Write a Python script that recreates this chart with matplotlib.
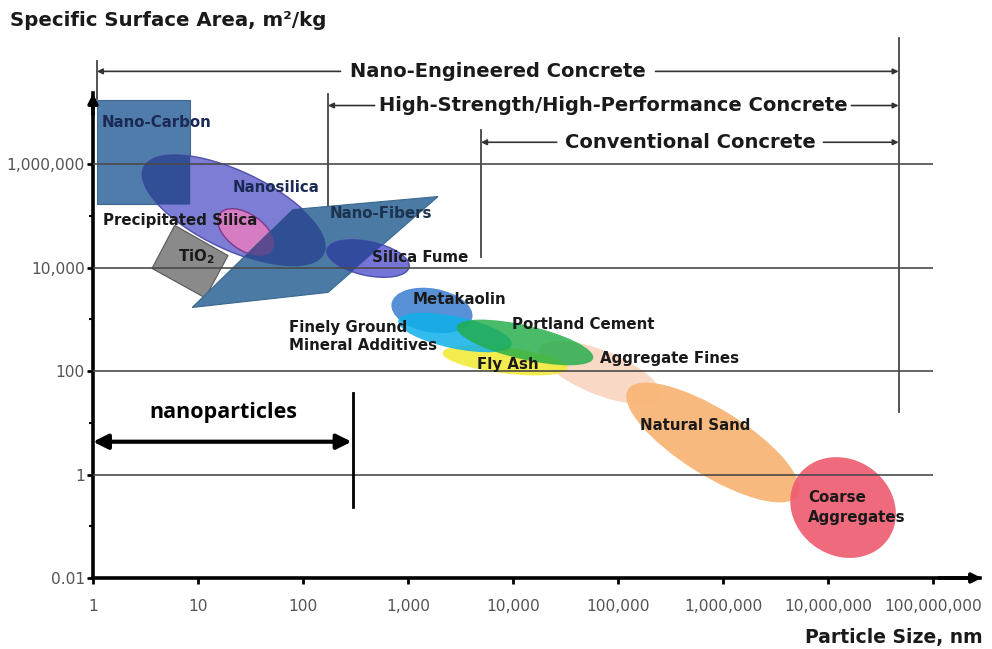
import matplotlib
matplotlib.use("Agg")
import numpy as np
import matplotlib.pyplot as plt
from matplotlib.patches import Ellipse, Polygon
from matplotlib import transforms
from matplotlib.ticker import NullFormatter, NullLocator

# ---- axis ticks ----
x_ticks = [1, 10, 100, 1e3, 1e4, 1e5, 1e6, 1e7, 1e8]
x_labels = ["1", "10", "100", "1,000", "10,000", "100,000",
            "1,000,000", "10,000,000", "100,000,000"]
y_ticks = [0.01, 1, 100, 1e4, 1e6]
y_labels = ["0.01", "1", "100", "10,000", "1,000,000"]
y_minor = [0.1, 10, 1e3, 1e5]
grid_levels = [1, 100, 1e4, 1e6]

# ---- polygonal regions (particle size nm, surface area m2/kg) ----
nano_carbon_size = [1.09, 8.4, 8.4, 1.09]
nano_carbon_area = [1.7e7, 1.7e7, 1.65e5, 1.65e5]
tio2_size = [3.65, 11.7, 19.3, 6.0]
tio2_area = [9.6e3, 2.6e3, 1.7e4, 6.5e4]
fibers_size = [80, 1930, 173, 8.8]
fibers_area = [1.32e5, 2.35e5, 3.3e3, 1.69e3]

# ---- elliptical regions: centre size (nm), centre area (m2/kg) ----
region_names = ["Nanosilica", "Precipitated Silica", "Silica Fume", "Aggregate Fines",
                "Fly Ash", "Metakaolin", "Finely Ground", "Portland Cement",
                "Natural Sand", "Coarse Aggregates"]
region_size = [22, 28.6, 416, 67400, 8400, 1690, 2800, 13000, 8.0e5, 1.39e7]
region_area = [1.26e5, 4.8e4, 1.49e4, 93.5, 160, 1476, 555, 356, 4.15, 0.23]

# ---- concrete classes: lower size bound (nm) ----
class_names = ["Nano-Engineered Concrete", "High-Strength/High-Performance Concrete",
               "Conventional Concrete"]
class_start = [1.09, 173, 4960]
class_end = 4.7e7
nano_limit = 290

# ellipse geometry in pixels: semi-major, semi-minor, tilt (deg)
ell_geom = {
    "Nanosilica": (100, 39, -25.6),
    "Precipitated Silica": (32, 18, -35),
    "Silica Fume": (42, 17, -12),
    "Aggregate Fines": (65, 22, -22),
    "Fly Ash": (63, 13, -7),
    "Metakaolin": (41, 22, -10),
    "Finely Ground": (58, 16, -12),
    "Portland Cement": (70, 17, -13),
    "Natural Sand": (100, 33, -32),
    "Coarse Aggregates": (55, 48, -35),
}
ell_style = {
    "Nanosilica": dict(fc="#7676d4", alpha=0.95, ec="#4c4ca8", z=3),
    "Precipitated Silica": dict(fc="#dc7cc2", alpha=0.95, ec="#7d3585", z=4),
    "Silica Fume": dict(fc="#6e6ed6", alpha=0.95, ec="#4a4aa8", z=6),
    "Aggregate Fines": dict(fc="#f9d4c0", alpha=0.9, ec="none", z=2),
    "Fly Ash": dict(fc="#f1ea3c", alpha=0.9, ec="none", z=2.2),
    "Metakaolin": dict(fc="#4f8ad6", alpha=0.95, ec="none", z=2.3),
    "Finely Ground": dict(fc="#10b0ea", alpha=0.85, ec="none", z=2.4),
    "Portland Cement": dict(fc="#22ad48", alpha=0.82, ec="none", z=2.5),
    "Natural Sand": dict(fc="#f8b677", alpha=0.95, ec="none", z=2.6),
    "Coarse Aggregates": dict(fc="#ee5a6f", alpha=0.9, ec="none", z=2.7),
}
# darker tones where an ellipse lies under a blue polygon
overlap_color = {"Nanosilica": "#2f4c94", "Precipitated Silica": "#5e4a8e",
                 "Silica Fume": "#2f4a9c"}

W, H = 992, 649
fig = plt.figure(figsize=(W / 100, H / 100), dpi=100)
ax_left, ax_right, ax_bottom, ax_top = 93, 980, 578, 93
ax = fig.add_axes([ax_left / W, (H - ax_bottom) / H,
                   (ax_right - ax_left) / W, (ax_bottom - ax_top) / H])
ax.set_xscale("log")
ax.set_yscale("log")
ax.set_xlim(1, 10 ** 8.447)
ax.set_ylim(0.01, 10 ** 7.372)
ax.set_facecolor("white")

for s in ["top", "right"]:
    ax.spines[s].set_visible(False)
for s in ["left", "bottom"]:
    ax.spines[s].set_linewidth(2.6)
    ax.spines[s].set_color("black")

ax.set_xticks(x_ticks)
ax.set_xticklabels(x_labels)
ax.set_yticks(y_ticks)
ax.set_yticklabels(y_labels)
ax.set_yticks(y_minor, minor=True)
ax.yaxis.set_minor_formatter(NullFormatter())
ax.xaxis.set_minor_locator(NullLocator())
ax.tick_params(axis="x", which="major", length=4, width=2, direction="out",
               pad=11, labelsize=11.2, labelcolor="#555555", color="black")
ax.tick_params(axis="y", which="major", length=4, width=2, direction="out",
               pad=2, labelsize=11.2, labelcolor="#555555", color="black")
ax.tick_params(axis="y", which="minor", length=3, width=1.5, direction="out", color="black")

# axis arrowheads
ax.annotate("", xy=(1.005, 0), xytext=(0.95, 0), xycoords="axes fraction",
            arrowprops=dict(arrowstyle="-|>", color="black", lw=2.6,
                            mutation_scale=14), annotation_clip=False)
ax.annotate("", xy=(0, 1.005), xytext=(0, 0.95), xycoords="axes fraction",
            arrowprops=dict(arrowstyle="-|>", color="black", lw=2.6,
                            mutation_scale=14), annotation_clip=False)

# horizontal grid levels, drawn over the regions
ax.hlines(grid_levels, 1, 1e8, colors="#4a4a4a", lw=1.2, zorder=7)

# polygons
carbon_xy = np.column_stack([nano_carbon_size, nano_carbon_area])
fibers_xy = np.column_stack([fibers_size, fibers_area])
ax.add_patch(Polygon(carbon_xy, closed=True, fc="#4f7caa", ec="#3f6890", lw=0.8,
                     zorder=2.8))
ax.add_patch(Polygon(np.column_stack([tio2_size, tio2_area]), closed=True,
                     fc="#8a8a8a", ec="#5e5e5e", lw=0.9, zorder=2.9))
ax.add_patch(Polygon(fibers_xy, closed=True, fc="#4b7ba5", ec="#3a6890", lw=0.8,
                     zorder=5))


def ellipse_patch(name, sx, ay, **kw):
    a, b, tilt = ell_geom[name]
    tr = fig.dpi_scale_trans + transforms.ScaledTranslation(sx, ay, ax.transData)
    return Ellipse((0, 0), 2 * a / 100, 2 * b / 100, angle=tilt, transform=tr, **kw)


def ellipse_outline(name, sx, ay, n=240):
    """Ellipse outline in display pixels."""
    a, b, tilt = ell_geom[name]
    cx, cy = ax.transData.transform((sx, ay))
    t = np.linspace(0, 2 * np.pi, n, endpoint=False)
    th = np.deg2rad(tilt)
    ex, ey = a * np.cos(t), b * np.sin(t)
    return np.column_stack([cx + ex * np.cos(th) - ey * np.sin(th),
                            cy + ex * np.sin(th) + ey * np.cos(th)])


def clip_convex(subject, clip):
    """Sutherland-Hodgman clipping of a polygon by a convex polygon."""
    area = 0.5 * np.sum(clip[:, 0] * np.roll(clip[:, 1], -1) -
                        np.roll(clip[:, 0], -1) * clip[:, 1])
    if area < 0:
        clip = clip[::-1]
    out = [tuple(p) for p in subject]
    for i in range(len(clip)):
        a, b = clip[i], clip[(i + 1) % len(clip)]

        def inside(p):
            return (b[0] - a[0]) * (p[1] - a[1]) - (b[1] - a[1]) * (p[0] - a[0]) >= 0

        def cross(p, q):
            d1 = np.array(q) - np.array(p)
            d2 = b - a
            den = d1[0] * d2[1] - d1[1] * d2[0]
            tt = ((a[0] - p[0]) * d2[1] - (a[1] - p[1]) * d2[0]) / den
            return (p[0] + tt * d1[0], p[1] + tt * d1[1])
        inp, out = out, []
        if not inp:
            break
        prev = inp[-1]
        for cur in inp:
            if inside(cur):
                if not inside(prev):
                    out.append(cross(prev, cur))
                out.append(cur)
            elif inside(prev):
                out.append(cross(prev, cur))
            prev = cur
    return np.array(out)


to_data = ax.transData.inverted()
# ellipses, sized in screen pixels around their data centres
for name, sx, ay in zip(region_names, region_size, region_area):
    st = ell_style[name]
    ax.add_patch(ellipse_patch(name, sx, ay, fc=st["fc"], ec=st["ec"],
                               alpha=st["alpha"], lw=1.0, zorder=st["z"]))
    if name in overlap_color:
        outline = ellipse_outline(name, sx, ay)
        for poly, zc in ((carbon_xy, 3.5), (fibers_xy, max(5.1, st["z"] + 0.1))):
            piece = clip_convex(outline, ax.transData.transform(poly))
            if len(piece) >= 3:
                ax.add_patch(Polygon(to_data.transform(piece), closed=True,
                                     fc=overlap_color[name], ec="none", alpha=0.95,
                                     zorder=zc))

# class boundaries and brackets
vline_kw = dict(color="#444444", lw=1.3, clip_on=False, zorder=1)
ax.plot([class_end, class_end], [10 ** 8.43, 16], **vline_kw)
ax.plot([class_start[0], class_start[0]], [10 ** 8.0, 10 ** 7.25], **vline_kw)
ax.plot([class_start[1], class_start[1]], [10 ** 7.35, 10 ** 4.5], **vline_kw)
ax.plot([class_start[2], class_start[2]], [10 ** 6.65, 10 ** 4.2], **vline_kw)

bracket_y = [10 ** 7.79, 10 ** 7.13, 10 ** 6.42]
bracket_text_x = [10 ** 3.857, 10 ** 4.952, 10 ** 5.686]
bracket_text_half = [1.50, 2.27, 1.27]   # half widths of the text gaps, in decades
label_font = "DejaVu Sans"
for name, x0, yb, xc, hw in zip(class_names, class_start, bracket_y,
                                bracket_text_x, bracket_text_half):
    lc = np.log10(xc)
    ax.text(xc, yb, name, ha="center", va="center", fontsize=14, fontweight="bold",
            color="#1a1a1a", family=label_font, clip_on=False)
    for tip, tail in [(x0, 10 ** (lc - hw)), (class_end, 10 ** (lc + hw))]:
        ax.annotate("", xy=(tip, yb), xytext=(tail, yb), xycoords="data",
                    arrowprops=dict(arrowstyle="-|>", color="#333333", lw=1.2,
                                    mutation_scale=8, shrinkA=0, shrinkB=0),
                    annotation_clip=False)

# region labels
lbl = dict(fontsize=10.8, fontweight="bold", family=label_font, zorder=10, va="center")
navy = "#1b2a55"
dark = "#1a1a1a"
ax.text(1.22, 10 ** 6.80, "Nano-Carbon", color=navy, **lbl)
ax.text(21.5, 10 ** 5.546, "Nanosilica", color=navy, **lbl)
ax.text(1.245, 10 ** 4.908, "Precipitated Silica", color=dark, **lbl)
ax.text(6.45, 10 ** 4.21, "TiO$_\\mathregular{2}$", color=dark, **lbl)
ax.text(181, 10 ** 5.04, "Nano-Fibers", color="#1c3350", **lbl)
ax.text(454, 10 ** 4.19, "Silica Fume", color=dark, **lbl)
ax.text(1116, 10 ** 3.38, "Metakaolin", color=dark, **lbl)
ax.text(73.6, 10 ** 2.667, "Finely Ground\nMineral Additives", color=dark,
        linespacing=1.25, **lbl)
ax.text(9780, 10 ** 2.90, "Portland Cement", color=dark, **lbl)
ax.text(4540, 10 ** 2.126, "Fly Ash", color=dark, **lbl)
ax.text(67400, 10 ** 2.24, "Aggregate Fines", color=dark, **lbl)
ax.text(1.62e5, 10 ** 0.947, "Natural Sand", color=dark, **lbl)
ax.text(6.45e6, 10 ** -0.638, "Coarse\nAggregates", color=dark,
        linespacing=1.35, **lbl)

# nanoparticle range
ax.annotate("", xy=(1, 4.3), xytext=(nano_limit, 4.3), xycoords="data",
            arrowprops=dict(arrowstyle="<|-|>", color="black", lw=3,
                            mutation_scale=22, shrinkA=0, shrinkB=0),
            annotation_clip=False, zorder=8)
ax.plot([nano_limit * 1.04, nano_limit * 1.04], [37, 0.24], color="black", lw=2, zorder=8)
ax.text(17.5, 10 ** 1.2, "nanoparticles", ha="center", va="center", fontsize=15.5,
        fontweight="bold", family="Open Sans", color="black", zorder=8)

# axis titles
fig.text(10 / W, 1 - 20 / H, "Specific Surface Area, m²/kg", ha="left", va="center",
         fontsize=14.2, fontweight="bold", family=label_font, color="#1a1a1a")
fig.text(983 / W, 1 - 637 / H, "Particle Size, nm", ha="right", va="center",
         fontsize=13.5, fontweight="bold", family=label_font, color="#1a1a1a")

fig.savefig("out.png", dpi=100, facecolor="white")
